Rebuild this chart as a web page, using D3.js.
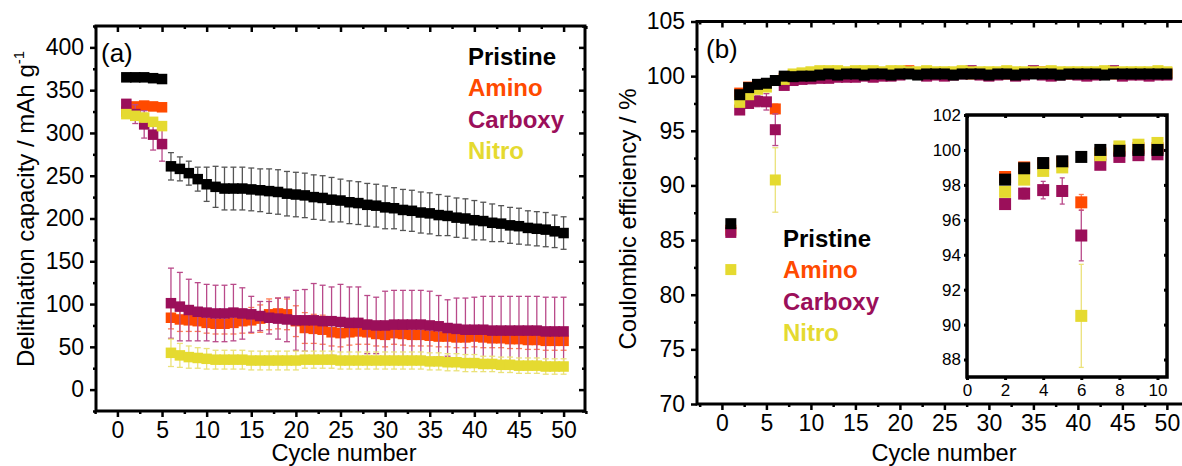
<!DOCTYPE html>
<html>
<head>
<meta charset="utf-8">
<script src="https://cdn.jsdelivr.net/npm/d3@7"></script>
<style>
body { margin: 0; background: #fff; }
svg text { font-family: "Liberation Sans", Arial, sans-serif; fill: #000; }
</style>
</head>
<body>
<svg id="chart" width="1182" height="466"></svg>
<script>
// series, in legend order
const seriesNames = ["Pristine", "Amino", "Carboxy", "Nitro"];
const colors = { Pristine: "#000000", Amino: "#ff4a00", Carboxy: "#9b0f5a", Nitro: "#e5da30" };
const errColors = { Pristine: "#555555", Amino: "#ff7d55", Carboxy: "#b94a8a", Nitro: "#ebe27a" };
const drawOrder = ["Amino", "Carboxy", "Nitro", "Pristine"];

const cycles = d3.range(1, 51);

// (a) delithiation capacity, mAh/g
const capPristine = [365, 365, 365, 364, 363,
  261, 258, 253, 246, 240, 237, 235, 235, 235, 234, 233, 232, 231, 229, 228,
  227, 225, 224, 222, 221, 219, 218, 216, 215, 213, 212, 210, 209, 207, 206,
  204, 203, 201, 200, 198, 197, 195, 194, 192, 191, 189, 188, 187, 185, 183];
const capPristineErr = [2, 2, 2, 2, 3,
  16, 14, 14, 14, 20, 24, 25, 25, 25, 25, 25, 26, 26, 26, 26,
  26, 26, 26, 26, 25, 25, 25, 25, 25, 25, 24, 24, 24, 24, 24,
  24, 23, 23, 23, 23, 22, 22, 21, 21, 21, 20, 20, 20, 19, 19];
const capAmino = [325, 331, 332, 331, 330,
  84, 82, 81, 80, 78, 77, 77, 78, 80, 81, 83, 88, 89, 88, 80,
  72, 71, 70, 67, 66, 67, 68, 67, 65, 64, 66, 65, 64, 64, 63,
  62, 62, 61, 61, 62, 61, 60, 60, 59, 59, 58, 58, 57, 57, 57];
const capAminoErr = [3, 4, 4, 3, 3,
  13, 14, 13, 12, 12, 12, 12, 13, 14, 15, 16, 18, 18, 18, 18,
  18, 17, 17, 16, 16, 15, 15, 14, 14, 14, 13, 13, 13, 13, 12,
  12, 12, 12, 12, 12, 12, 11, 11, 11, 11, 11, 11, 11, 11, 11];
const capCarboxy = [334, 322, 310, 298, 287,
  101, 97, 93, 91, 90, 89, 89, 90, 89, 88, 86, 84, 83, 82, 81,
  81, 81, 80, 80, 79, 78, 78, 76, 75, 75, 76, 76, 76, 76, 75,
  74, 72, 71, 70, 70, 70, 69, 69, 69, 69, 69, 69, 68, 68, 68];
const capCarboxyErr = [3, 11, 16, 18, 20,
  41, 40, 36, 34, 33, 33, 33, 33, 30, 21, 17, 19, 24, 26, 35,
  36, 43, 42, 40, 44, 42, 42, 34, 33, 40, 40, 40, 40, 40, 40,
  36, 33, 36, 37, 38, 39, 40, 40, 40, 40, 40, 40, 40, 40, 40];
const capNitro = [322, 320, 318, 313, 308,
  43, 40, 38, 37, 36, 35, 35, 35, 35, 34, 34, 34, 34, 34, 34,
  35, 35, 35, 35, 34, 34, 34, 34, 34, 34, 34, 34, 34, 34, 33,
  33, 32, 32, 31, 31, 30, 30, 29, 29, 28, 28, 28, 27, 27, 27];
const capNitroErr = [3, 4, 5, 4, 4,
  16, 14, 13, 12, 12, 11, 11, 11, 11, 11, 11, 11, 11, 11, 11,
  10, 10, 10, 10, 10, 10, 10, 10, 10, 10, 10, 10, 10, 10, 10,
  10, 10, 10, 10, 10, 9, 9, 9, 9, 9, 9, 9, 9, 9, 9];

// (b) coulombic efficiency, %
const cePristine = [86.5, 98.3, 98.95, 99.25, 99.35, 99.6, 100.0, 99.95, 100.0, 100.0,
  100.1, 100.2, 100.1, 100.2, 100.2, 100.1, 100.2, 100.2, 100.1, 100.2,
  100.2, 100.1, 100.2, 100.2, 100.2, 100.1, 100.2, 100.2, 100.2, 100.1,
  100.2, 100.2, 100.1, 100.2, 100.2, 100.2, 100.2, 100.1, 100.2, 100.2,
  100.2, 100.2, 100.1, 100.2, 100.2, 100.2, 100.2, 100.2, 100.2, 100.2];
const cePristineErr = [0.2, 0.1, 0.1, 0.1, 0.1, 0.1, 0.1, 0.1, 0.1, 0.1,
  0.1, 0.1, 0.1, 0.1, 0.1, 0.1, 0.1, 0.1, 0.1, 0.1,
  0.1, 0.1, 0.1, 0.1, 0.1, 0.1, 0.1, 0.1, 0.1, 0.1,
  0.1, 0.1, 0.1, 0.1, 0.1, 0.1, 0.1, 0.1, 0.1, 0.1,
  0.1, 0.1, 0.1, 0.1, 0.1, 0.1, 0.1, 0.1, 0.1, 0.1];
const ceAmino = [85.9, 98.45, 99.0, 99.2, 99.3, 97.0, 99.8, 100.0, 100.1, 100.1,
  100.2, 100.3, 100.2, 100.3, 100.2, 100.3, 100.2, 100.2, 100.3, 100.4,
  100.5, 100.3, 100.2, 100.3, 100.2, 100.3, 100.4, 100.2, 100.3, 100.2,
  100.3, 100.2, 100.3, 100.2, 100.3, 100.4, 100.2, 100.3, 100.2, 100.3,
  100.2, 100.3, 100.2, 100.2, 100.3, 100.2, 100.3, 100.2, 100.2, 100.3];
const ceAminoErr = [0.3, 0.2, 0.2, 0.2, 0.2, 0.45, 0.2, 0.1, 0.1, 0.1,
  0.1, 0.1, 0.1, 0.1, 0.1, 0.1, 0.1, 0.1, 0.1, 0.1,
  0.1, 0.1, 0.1, 0.1, 0.1, 0.1, 0.1, 0.1, 0.1, 0.1,
  0.1, 0.1, 0.1, 0.1, 0.1, 0.1, 0.1, 0.1, 0.1, 0.1,
  0.1, 0.1, 0.1, 0.1, 0.1, 0.1, 0.1, 0.1, 0.1, 0.1];
const ceCarboxy = [85.7, 96.9, 97.5, 97.7, 97.65, 95.1, 99.15, 99.6, 99.7, 99.75,
  99.8, 99.8, 99.9, 99.9, 99.9, 100.0, 99.9, 100.0, 100.0, 100.1,
  100.4, 100.2, 100.0, 100.1, 100.0, 100.1, 100.2, 100.5, 100.1, 100.0,
  100.1, 100.2, 100.0, 100.1, 100.5, 100.1, 100.0, 100.1, 100.2, 100.1,
  100.0, 100.1, 100.2, 100.5, 100.0, 100.1, 100.1, 100.0, 100.1, 100.1];
const ceCarboxyErr = [0.3, 0.2, 0.3, 0.5, 0.75, 1.45, 0.2, 0.1, 0.1, 0.1,
  0.1, 0.1, 0.1, 0.1, 0.1, 0.1, 0.1, 0.1, 0.1, 0.1,
  0.1, 0.1, 0.1, 0.1, 0.1, 0.1, 0.1, 0.1, 0.1, 0.1,
  0.1, 0.1, 0.1, 0.1, 0.1, 0.1, 0.1, 0.1, 0.1, 0.1,
  0.1, 0.1, 0.1, 0.1, 0.1, 0.1, 0.1, 0.1, 0.1, 0.1];
const ceNitro = [82.3, 97.6, 98.3, 98.8, 99.0, 90.5, 99.7, 100.2, 100.3, 100.4,
  100.5, 100.5, 100.5, 100.4, 100.5, 100.5, 100.5, 100.4, 100.5, 100.5,
  100.4, 100.4, 100.5, 100.4, 100.4, 100.4, 100.5, 100.4, 100.4, 100.4,
  100.4, 100.5, 100.4, 100.4, 100.4, 100.4, 100.5, 100.4, 100.4, 100.4,
  100.4, 100.4, 100.5, 100.4, 100.4, 100.4, 100.4, 100.4, 100.5, 100.4];
const ceNitroErr = [0.2, 0.2, 0.2, 0.2, 0.2, 2.95, 0.1, 0.1, 0.1, 0.1,
  0.1, 0.1, 0.1, 0.1, 0.1, 0.1, 0.1, 0.1, 0.1, 0.1,
  0.1, 0.1, 0.1, 0.1, 0.1, 0.1, 0.1, 0.1, 0.1, 0.1,
  0.1, 0.1, 0.1, 0.1, 0.1, 0.1, 0.1, 0.1, 0.1, 0.1,
  0.1, 0.1, 0.1, 0.1, 0.1, 0.1, 0.1, 0.1, 0.1, 0.1];

const capData = {
  Pristine: [capPristine, capPristineErr], Amino: [capAmino, capAminoErr],
  Carboxy: [capCarboxy, capCarboxyErr], Nitro: [capNitro, capNitroErr]
};
const ceData = {
  Pristine: [cePristine, cePristineErr], Amino: [ceAmino, ceAminoErr],
  Carboxy: [ceCarboxy, ceCarboxyErr], Nitro: [ceNitro, ceNitroErr]
};

// tick values
const xTicks = [0, 5, 10, 15, 20, 25, 30, 35, 40, 45, 50];
const xMinor = [-2.5, 2.5, 7.5, 12.5, 17.5, 22.5, 27.5, 32.5, 37.5, 42.5, 47.5, 52.5];
const capTicks = [0, 50, 100, 150, 200, 250, 300, 350, 400];
const capMinor = [-25, 25, 75, 125, 175, 225, 275, 325, 375, 425];
const ceTicks = [70, 75, 80, 85, 90, 95, 100, 105];
const ceMinor = [72.5, 77.5, 82.5, 87.5, 92.5, 97.5, 102.5];
const insetXTicks = [0, 2, 4, 6, 8, 10];
const insetYTicks = [88, 90, 92, 94, 96, 98, 100, 102];

const svg = d3.select("#chart");

function drawSeries(g, x, y, name, vals, errs, size, capW) {
  let pts = cycles.map((c, i) => ({ c: c, v: vals[i], e: errs[i] })).filter(d => d.v != null);
  let eg = g.append("g")
    .attr("stroke", errColors[name])
    .attr("stroke-width", 1.3);
  pts.forEach(function (d) {
    let xc = x(d.c);
    eg.append("line").attr("x1", xc).attr("x2", xc)
      .attr("y1", y(d.v + d.e)).attr("y2", y(d.v - d.e));
    eg.append("line").attr("x1", xc - capW / 2).attr("x2", xc + capW / 2)
      .attr("y1", y(d.v + d.e)).attr("y2", y(d.v + d.e));
    eg.append("line").attr("x1", xc - capW / 2).attr("x2", xc + capW / 2)
      .attr("y1", y(d.v - d.e)).attr("y2", y(d.v - d.e));
  });
  g.append("g").selectAll("rect")
    .data(pts)
    .enter().append("rect")
    .attr("x", d => x(d.c) - size / 2)
    .attr("y", d => y(d.v) - size / 2)
    .attr("width", size)
    .attr("height", size)
    .attr("fill", colors[name]);
}

// frame + axes; left/bottom ticks point out, top/right ticks point in
function drawFrame(g, x, y, xt, xm, yt, ym, opt) {
  let x0 = x.range()[0], x1 = x.range()[1];
  let y0 = y.range()[1], y1 = y.range()[0];

  g.append("g").attr("transform", `translate(0,${y1})`)
    .call(d3.axisBottom(x).tickValues(xt).tickSize(opt.major).tickPadding(opt.padX).tickSizeOuter(0));
  g.append("g").attr("transform", `translate(0,${y1})`)
    .call(d3.axisBottom(x).tickValues(xm).tickSize(opt.minor).tickFormat("").tickSizeOuter(0));
  g.append("g").attr("transform", `translate(0,${y0})`)
    .call(d3.axisTop(x).tickValues(xt).tickSize(-opt.major).tickFormat("").tickSizeOuter(0));
  g.append("g").attr("transform", `translate(0,${y0})`)
    .call(d3.axisTop(x).tickValues(xm).tickSize(-opt.minor).tickFormat("").tickSizeOuter(0));

  g.append("g").attr("transform", `translate(${x0},0)`)
    .call(d3.axisLeft(y).tickValues(yt).tickSize(opt.major).tickPadding(opt.padY).tickSizeOuter(0));
  g.append("g").attr("transform", `translate(${x0},0)`)
    .call(d3.axisLeft(y).tickValues(ym).tickSize(opt.minor).tickFormat("").tickSizeOuter(0));
  g.append("g").attr("transform", `translate(${x1},0)`)
    .call(d3.axisRight(y).tickValues(yt).tickSize(-opt.major).tickFormat("").tickSizeOuter(0));
  g.append("g").attr("transform", `translate(${x1},0)`)
    .call(d3.axisRight(y).tickValues(ym).tickSize(-opt.minor).tickFormat("").tickSizeOuter(0));

  g.selectAll(".domain").remove();
  g.selectAll(".tick line").attr("stroke", "#000").attr("stroke-width", opt.tickW);
  g.selectAll(".tick text").attr("font-size", opt.fontSize).attr("font-family", null).attr("fill", "#000");

  g.append("rect")
    .attr("x", x0).attr("y", y0)
    .attr("width", x1 - x0).attr("height", y1 - y0)
    .attr("fill", "none").attr("stroke", "#000").attr("stroke-width", opt.frameW);
}

// ---------- panel (a)
const xA = d3.scaleLinear().domain([-2.4, 52.4]).range([96, 585]);
const yA = d3.scaleLinear().domain([-25, 425]).range([411, 26]);
const gA = svg.append("g");
svg.append("clipPath").attr("id", "clipA").append("rect")
  .attr("x", 96).attr("y", 26).attr("width", 489).attr("height", 385);
const dataA = gA.append("g").attr("clip-path", "url(#clipA)");
drawOrder.forEach(n => drawSeries(dataA, xA, yA, n, capData[n][0], capData[n][1], 10.5, 6));
drawFrame(gA, xA, yA, xTicks, xMinor, capTicks, capMinor,
  { fontSize: 23, major: 6, minor: 3, padX: 5, padY: 6, tickW: 2.5, frameW: 3 });

gA.append("text").attr("x", 101).attr("y", 62).attr("font-size", 26).text("(a)");
gA.append("text").attr("x", 344).attr("y", 461).attr("font-size", 23.5)
  .attr("text-anchor", "middle").text("Cycle number");
let tA = gA.append("text")
  .attr("transform", "translate(34,209) rotate(-90)")
  .attr("font-size", 24).attr("text-anchor", "middle");
tA.append("tspan").text("Delithiation capacity / mAh g");
tA.append("tspan").attr("font-size", 15).attr("dy", -10).text("-1");

seriesNames.forEach(function (n, i) {
  gA.append("text")
    .attr("x", 468).attr("y", 65 + i * 31.4)
    .attr("font-size", 24).attr("font-weight", "bold")
    .style("fill", colors[n]).text(n);
});

// ---------- panel (b)
const xB = d3.scaleLinear().domain([-2.8, 52.8]).range([697, 1191.8]);
const yB = d3.scaleLinear().domain([70, 105]).range([404, 21.5]);
const gB = svg.append("g");
const dataB = gB.append("g");
drawOrder.forEach(n => drawSeries(dataB, xB, yB, n, ceData[n][0], ceData[n][1], 11, 6));
drawFrame(gB, xB, yB, xTicks, xMinor, ceTicks, ceMinor,
  { fontSize: 23, major: 6, minor: 3, padX: 5, padY: 6, tickW: 2.5, frameW: 3 });

gB.append("text").attr("x", 706).attr("y", 58).attr("font-size", 26).text("(b)");
gB.append("text").attr("x", 944).attr("y", 461).attr("font-size", 23.5)
  .attr("text-anchor", "middle").text("Cycle number");
gB.append("text")
  .attr("transform", "translate(636,219) rotate(-90)")
  .attr("font-size", 24).attr("text-anchor", "middle")
  .text("Coulombic efficiency / %");

seriesNames.forEach(function (n, i) {
  gB.append("text")
    .attr("x", 783).attr("y", 247 + i * 31.4)
    .attr("font-size", 24).attr("font-weight", "bold")
    .style("fill", colors[n]).text(n);
});

// ---------- inset, first 10 cycles
const xI = d3.scaleLinear().domain([0, 10.5]).range([967, 1167]);
const yI = d3.scaleLinear().domain([87, 102]).range([377, 115]);
const gI = svg.append("g");
gI.append("rect").attr("x", 967).attr("y", 115).attr("width", 200).attr("height", 262).attr("fill", "#fff");
svg.append("clipPath").attr("id", "clipI").append("rect")
  .attr("x", 967).attr("y", 115).attr("width", 200).attr("height", 262);
const dataI = gI.append("g").attr("clip-path", "url(#clipI)");
drawOrder.forEach(function (n) {
  drawSeries(dataI, xI, yI, n, ceData[n][0].slice(0, 11), ceData[n][1].slice(0, 11), 12, 5);
});
drawFrame(gI, xI, yI, insetXTicks, [], insetYTicks, [],
  { fontSize: 17, major: 3, minor: 0, padX: 4, padY: 3, tickW: 3, frameW: 3.5 });
</script>
</body>
</html>
